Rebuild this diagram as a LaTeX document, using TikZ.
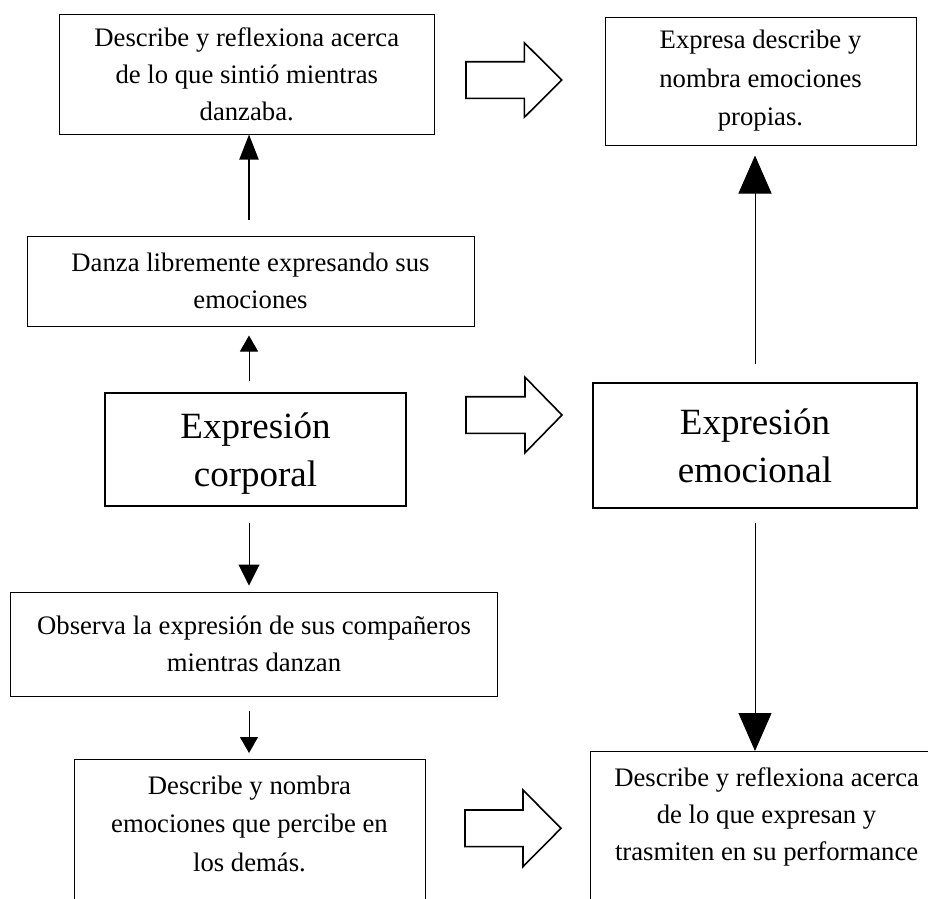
\documentclass[tikz,border=0pt]{standalone}
\usepackage{fontspec}
\setmainfont{Liberation Serif}
\usetikzlibrary{arrows.meta}

\tikzset{
  caja/.style={draw, line width=1pt, align=center, inner sep=0pt,
    font=\fontsize{26.7}{37}\selectfont},
  interlineado/.style={font=\fontsize{26.7}{38.5}\selectfont},
  cajagruesa/.style={caja, line width=2pt, text depth=0pt,
    font=\fontsize{37}{48}\selectfont},
  cajaabierta/.style={caja, anchor=north, inner ysep=16pt, text depth=120pt},
  bloque/.style={draw, line width=1.6pt, fill=white},
  flechamedia/.style={-{Triangle[length=25pt,width=19pt]}, line width=2pt},
  flechachica/.style={-{Triangle[length=16pt,width=18pt]}, line width=1pt},
  flechagrande/.style={-{Triangle[length=38pt,width=33pt]}, line width=1pt},
}

\begin{document}
\begin{tikzpicture}[x=1pt, y=-1pt]
        \useasboundingbox (0,0) rectangle (928,898);
        \clip (0,0) rectangle (928,898);
        \coordinate (ejeizq) at (249,0);

        % Cajas izquierda
        \node[caja, minimum width=374.5pt, minimum height=120pt] (sintio) at (246.75,74)
            {Describe y reflexiona acerca\\de lo que sintió mientras\\danzaba.};
        \node[caja, minimum width=447pt, minimum height=90pt] (danza) at (250.5,281)
            {Danza libremente expresando sus\\emociones};
        \node[cajagruesa, minimum width=301pt, minimum height=113.3pt] (corporal) at (255.5,449.3)
            {Expresión\\corporal};
        \node[caja, minimum width=486.5pt, minimum height=104pt] (observa) at (254,644)
            {Observa la expresión de sus compañeros\\mientras danzan};
        \node[cajaabierta, interlineado, minimum width=351pt] (percibe) at (249.5,759)
            {Describe y nombra\\emociones que percibe en\\los demás.};

        % Cajas derecha
        \node[caja, interlineado, minimum width=311pt, minimum height=128pt] (propias) at (760.5,81)
            {Expresa describe y\\nombra emociones\\propias.};
        \node[cajagruesa, minimum width=324.6pt, minimum height=125.6pt] (emocional) at (755,445.5)
            {Expresión\\emocional};
        \node[cajaabierta, minimum width=353pt] (performance) at (766.6,751)
            {Describe y reflexiona acerca\\de lo que expresan y\\trasmiten en su performance};

        % Flechas de bloque
        \draw[bloque, shift={(466,80)}] (0,-18.3) -- (58.3,-18.3) -- (58.3,-37.3) -- (95.7,0) -- (58.3,37.3) -- (58.3,18.3) -- (0,18.3) -- cycle;
        \draw[bloque, shift={(466,415)}] (0,-18.3) -- (59,-18.3) -- (59,-37.8) -- (96,0) -- (59,37.8) -- (59,18.3) -- (0,18.3) -- cycle;
        \draw[bloque, shift={(465,828.3)}] (0,-18.3) -- (58,-18.3) -- (58,-38.3) -- (96,0) -- (58,38.3) -- (58,18.3) -- (0,18.3) -- cycle;

        % Flechas izquierda
        \draw[flechamedia, shorten <=16pt] (ejeizq |- danza.north) -- (ejeizq |- sintio.south);
        \draw[flechachica, shorten <=11pt, shorten >=9pt] (ejeizq |- corporal.north) -- (ejeizq |- danza.south);
        \draw[-{Triangle[length=21pt,width=21pt]}, line width=1pt, shorten <=15.7pt, shorten >=6pt] (ejeizq |- corporal.south) -- (ejeizq |- observa.north);
        \draw[flechachica, shorten <=14pt, shorten >=6pt] (ejeizq |- observa.south) -- (ejeizq |- percibe.north);

        % Flechas derecha
        \draw[flechagrande, shorten <=17.7pt, shorten >=10pt] (emocional.north) -- (emocional.north |- propias.south);
        \draw[flechagrande, shorten <=13.4pt] (emocional.south) -- (emocional.south |- performance.north);
    \end{tikzpicture}
\end{document}
